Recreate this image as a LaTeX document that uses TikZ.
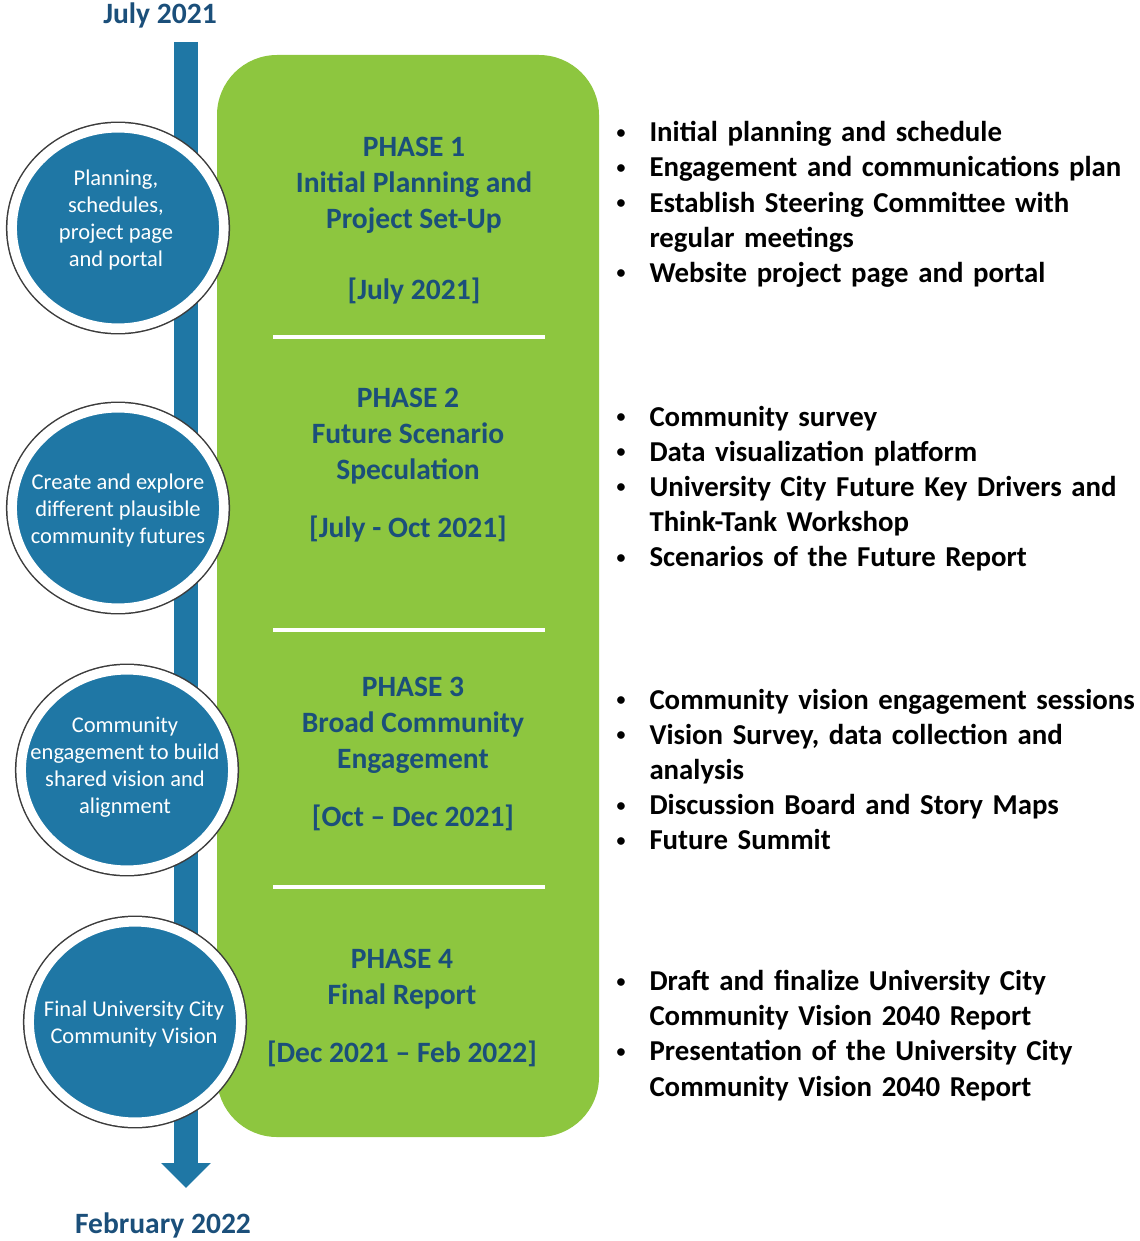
\documentclass[tikz,border=0pt]{standalone}
\usepackage{fontspec}
\setmainfont{Carlito}
\usepackage{enumitem}
\usetikzlibrary{arrows.meta,shapes.geometric}

\definecolor{tlblue}{HTML}{1F77A5}
\definecolor{panelgreen}{HTML}{8DC63F}
\definecolor{phasenavy}{HTML}{1B4F7A}
\definecolor{ringgray}{HTML}{3C3C3C}

% bullet list used beside each phase
\newcommand{\smallbullet}{\raisebox{0.12em}{\scalebox{0.62}{\textbullet}}}
\newcommand{\bulletlist}[1]{%
  \begin{itemize}[label=\smallbullet,leftmargin=0.83cm,labelsep=0.6cm,
      topsep=0pt,partopsep=0pt,itemsep=0pt,parsep=0pt]#1\end{itemize}}

\begin{document}
\begin{tikzpicture}[x=0.025cm,y=-0.025cm]
            \tikzstyle{disc}=[ellipse,inner sep=0,minimum width=5.29cm,minimum height=5.01cm,
                fill=tlblue,draw=white,line width=0.2375cm,preaction={draw=ringgray,line width=0.3125cm}]
            \tikzstyle{disctext}=[text=white,align=center,font=\fontsize{16}{19.2}\selectfont]
            \tikzstyle{phase}=[text=phasenavy,align=center,font=\fontsize{21}{25.6}\selectfont\bfseries]
            \tikzstyle{items}=[anchor=west,inner sep=0,text width=13cm,font=\fontsize{20.5}{25}\selectfont\bfseries]
            \tikzstyle{datelabel}=[text=phasenavy,font=\fontsize{21}{25}\selectfont\bfseries]
            \tikzstyle{divider}=[white,line width=0.1cm]
            \useasboundingbox (0,0) rectangle (1139,1241);
            % timeline arrow
            \coordinate (tl_top) at (186,42);
            \coordinate (tl_end) at (186,1188);
            \draw[tlblue,line width=0.6cm,-{Triangle[length=0.625cm,width=1.2cm]}] (tl_top) -- (tl_end);
            \node[datelabel] (start_label) at (160,15) {July 2021};
            \node[datelabel] (end_label) at (163,1225) {February 2022};
            % green panel with dividers
            \fill[panelgreen,rounded corners=1.5cm] (217,55) rectangle (599,1137);
            \draw[divider] (273,337) -- (545,337);
            \draw[divider] (273,630) -- (545,630);
            \draw[divider] (273,887) -- (545,887);
            % phase titles
            \node[phase] (phase1) at (414,221) {PHASE 1\\Initial Planning and\\Project Set-Up\\[25pt]{[July 2021]}};
            \node[phase] (phase2) at (408,465.5) {PHASE 2\\Future Scenario\\Speculation\\[15.6pt]{[July - Oct 2021]}};
            \node[phase] (phase3) at (413,754) {PHASE 3\\Broad Community\\Engagement\\[15.6pt]{[Oct -- Dec 2021]}};
            \node[phase] (phase4) at (402,1008) {PHASE 4\\Final Report\\[15.6pt]{[Dec 2021 -- Feb 2022]}};
            % discs on the timeline
            \node[disc] (circ1) at (118,228) {};
            \node[disctext] (circ1_text) at (116,220) {Planning,\\schedules,\\project page\\and portal};
            \node[disc] (circ2) at (118,508) {};
            \node[disctext] (circ2_text) at (118,510) {Create and explore\\different plausible\\community futures};
            \node[disc] (circ3) at (127,770) {};
            \node[disctext] (circ3_text) at (125,767) {Community\\engagement to build\\shared vision and\\alignment};
            \node[disc] (circ4) at (135,1022) {};
            \node[disctext] (circ4_text) at (134,1024) {Final University City\\Community Vision};
            % tasks of each phase
            \node[items] (items1) at (616,197) {\bulletlist{
                \item Initial planning and schedule
                \item Engagement and communications plan
                \item Establish Steering Committee with\\regular meetings
                \item Website project page and portal}};
            \node[items] (items2) at (616,481) {\bulletlist{
                \item Community survey
                \item Data visualization platform
                \item University City Future Key Drivers and\\Think-Tank Workshop
                \item Scenarios of the Future Report}};
            \node[items] (items3) at (616,762) {\bulletlist{
                \item Community vision engagement sessions
                \item Vision Survey, data collection and\\analysis
                \item Discussion Board and Story Maps
                \item Future Summit}};
            \node[items] (items4) at (616,1028) {\bulletlist{
                \item Draft and finalize University City\\Community Vision 2040 Report
                \item Presentation of the University City\\Community Vision 2040 Report}};
        \end{tikzpicture}
\end{document}
